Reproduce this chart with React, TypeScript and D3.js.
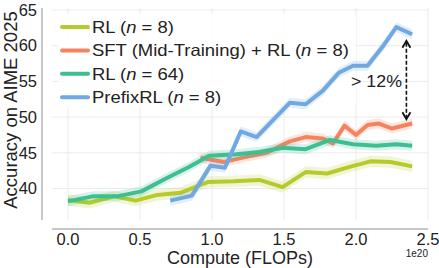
import React from 'react';
import * as d3 from 'd3';

// compute in units of 1e20 FLOPs, accuracy in %
const rl8: [number, number][] = [
  [0, 38.4], [0.15, 38.0], [0.32, 38.9], [0.47, 38.3], [0.62, 39.1], [0.78, 39.4],
  [0.97, 40.9], [1.15, 41.0], [1.33, 41.2], [1.49, 40.2], [1.65, 42.3], [1.8, 42.1],
  [1.95, 43.0], [2.1, 43.8], [2.24, 43.7], [2.39, 43.1],
];
const sftRl: [number, number][] = [
  [0.92, 44.3], [1.08, 43.7], [1.23, 44.4], [1.38, 45.0], [1.54, 46.6], [1.65, 47.2],
  [1.77, 47.0], [1.84, 46.3], [1.92, 48.8], [2.0, 47.5], [2.08, 48.9], [2.16, 49.1],
  [2.25, 48.4], [2.39, 49.1],
];
const rl64: [number, number][] = [
  [0, 38.2], [0.17, 38.9], [0.34, 38.9], [0.51, 39.6], [0.68, 41.4], [0.84, 43.0],
  [0.98, 44.6], [1.17, 44.8], [1.33, 45.1], [1.49, 45.7], [1.65, 45.5], [1.82, 46.8],
  [1.98, 46.2], [2.14, 46.0], [2.28, 46.2], [2.39, 46.0],
];
const prefixRl: [number, number][] = [
  [0.71, 38.3], [0.86, 39.0], [0.99, 43.2], [1.09, 42.9], [1.2, 48.0], [1.31, 47.2],
  [1.42, 49.5], [1.54, 52.0], [1.65, 51.8], [1.77, 53.7], [1.88, 56.2], [1.98, 57.2],
  [2.08, 57.2], [2.19, 60.0], [2.28, 62.6], [2.39, 61.6],
];

const seriesNames = ['RL', 'SFT (Mid-Training) + RL', 'RL', 'PrefixRL'];
const seriesN = [8, 8, 64, 8];
const seriesData = [rl8, sftRl, rl64, prefixRl];
const bandHalf = [0.8, 0.7, 0.7, 0.7];
const colors = ['#b6cb2b', '#f4845f', '#3dbe93', '#72a8e1'];

const xTicks = [0, 0.5, 1.0, 1.5, 2.0, 2.5];
const yTicks = [40, 45, 50, 55, 60, 65];

// "> 12%" gap annotation
const gapX = 2.35;
const gapTop = 60.7;
const gapBottom = 49.7;
const gapLabel = '> 12%';

const W = 439;
const H = 268;
const font = 'Liberation Sans, Arial, sans-serif';

export default function App() {
  const x = d3.scaleLinear().domain([0, 2.5]).range([68, 428]);
  const y = d3.scaleLinear().domain([40, 65]).range([188.5, 10]);
  const xMin = x.invert(52);
  const yMin = y.invert(220);
  const yMax = y.invert(8);

  const line = d3.line<[number, number]>().x(d => x(d[0])).y(d => y(d[1]));

  const ax = x(gapX);
  const aTop = y(gapTop);
  const aBot = y(gapBottom);

  return (
    <div style={{ position: 'absolute', left: 0, top: 0 }}>
      <svg width={W} height={H} style={{ display: 'block', background: '#fff' }} fontFamily={font}>
        {/* grid */}
        {yTicks.map(t => (
          <line key={'gy' + t} x1={x(xMin)} x2={x(2.5)} y1={y(t)} y2={y(t)} stroke="#ebebeb" strokeWidth={1} />
        ))}
        {xTicks.map(t => (
          <line key={'gx' + t} x1={x(t)} x2={x(t)} y1={y(yMin)} y2={y(yMax)} stroke="#ebebeb" strokeWidth={1} />
        ))}

        {/* legend frame hides grid only */}
        <rect x={58} y={14} width={298} height={93} rx={4} fill="#fff" fillOpacity={0.85} />

        {/* series */}
        {seriesData.map((d, i) => {
          const area = d3.area<[number, number]>()
            .x(p => x(p[0]))
            .y0(p => y(p[1] - bandHalf[i]))
            .y1(p => y(p[1] + bandHalf[i]));
          return (
            <g key={'s' + i}>
              <path d={area(d) || ''} fill={colors[i]} fillOpacity={0.2} />
              <path d={line(d) || ''} fill="none" stroke={colors[i]} strokeWidth={4} strokeLinejoin="round" />
            </g>
          );
        })}

        {/* spines */}
        <line x1={42} x2={42} y1={y(yMin)} y2={y(yMax)} stroke="#c8c8c8" strokeWidth={2} />
        <line x1={x(xMin)} x2={x(2.5)} y1={229} y2={229} stroke="#c8c8c8" strokeWidth={2} />

        {/* ticks */}
        {yTicks.map(t => (
          <text key={'ty' + t} x={37} y={y(t)} dy="0.35em" textAnchor="end" fontSize={16.5} fill="#222">{t}</text>
        ))}
        {xTicks.map(t => (
          <text key={'tx' + t} x={x(t)} y={239} dy="0.35em" textAnchor="middle" fontSize={16.5} fill="#222">{t.toFixed(1)}</text>
        ))}
        <text x={428} y={257} textAnchor="end" fontSize={10} fill="#222">1e20</text>

        {/* axis labels */}
        <text x={240} y={264} textAnchor="middle" fontSize={18} fill="#222">Compute (FLOPs)</text>
        <text transform="translate(17,110) rotate(-90)" textAnchor="middle" fontSize={18.5} fill="#222">Accuracy on AIME 2025</text>

        {/* gap annotation */}
        <line x1={ax} x2={ax} y1={aTop + 2} y2={aBot - 2} stroke="#111" strokeWidth={1.6} strokeDasharray="4,2" />
        <path d={`M${ax - 4},${aTop + 7} L${ax},${aTop} L${ax + 4},${aTop + 7}`} fill="none" stroke="#111" strokeWidth={1.8} />
        <path d={`M${ax - 4},${aBot - 7} L${ax},${aBot} L${ax + 4},${aBot - 7}`} fill="none" stroke="#111" strokeWidth={1.8} />
        <text transform={`translate(402,${(aTop + aBot) / 2 + 1}) scale(1.08,1)`} dy="0.35em" textAnchor="end" fontSize={16.5} fill="#222">{gapLabel}</text>

        {/* legend entries */}
        {seriesNames.map((name, i) => {
          const ly = 27 + i * 23.4;
          return (
            <g key={'l' + i}>
              <line x1={62} x2={88} y1={ly} y2={ly} stroke={colors[i]} strokeWidth={4} strokeLinecap="round" />
              <text transform={`translate(92,${ly}) scale(1.12,1)`} dy="0.35em" fontSize={16.5} fill="#222">
                {name} (<tspan fontStyle="italic">n</tspan> = {seriesN[i]})
              </text>
            </g>
          );
        })}
      </svg>
    </div>
  );
}
